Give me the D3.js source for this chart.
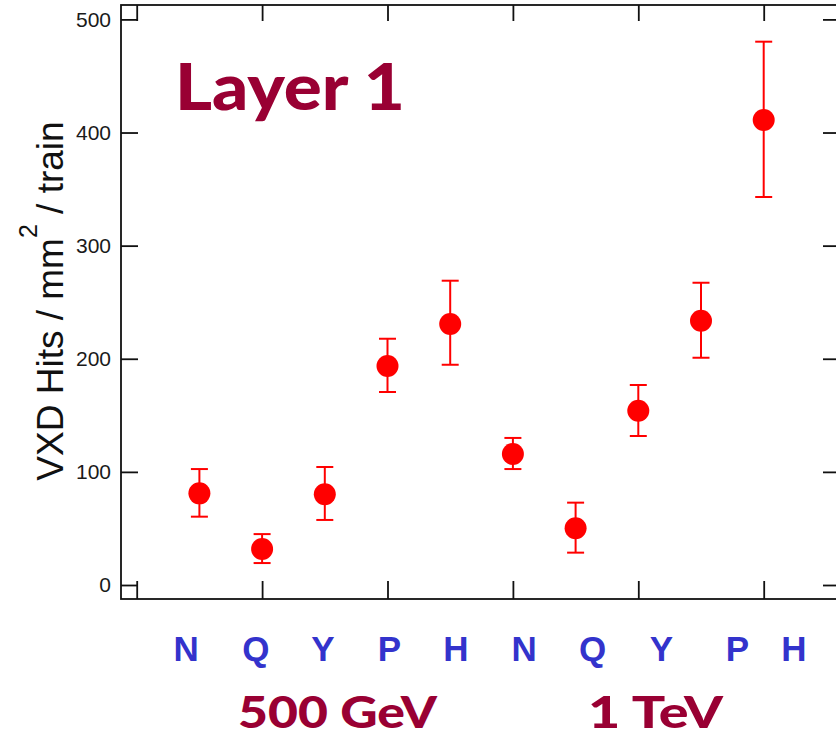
<!DOCTYPE html>
<html>
<head>
<meta charset="utf-8">
<script src="https://cdn.jsdelivr.net/npm/d3@7"></script>
<style>
  html, body { margin: 0; padding: 0; background: #ffffff; }
  svg { display: block; }
</style>
</head>
<body>
<svg id="chart" width="836" height="738"></svg>
<script>
// ---- data ----
const categories = ["N", "Q", "Y", "P", "H", "N", "Q", "Y", "P", "H"];
const energies = ["500 GeV", "1 TeV"];
const hits = [81, 31.8, 80.2, 193.6, 230.7, 115.8, 50.1, 154, 233.6, 411];
const errHigh = [102.5, 45, 104.3, 217.7, 269, 130, 72.8, 176.8, 267.2, 480.3];
const errLow = [60.4, 19.4, 57.5, 170.6, 194.7, 102.5, 28.6, 131.7, 200.9, 343];
const yTicks = [0, 100, 200, 300, 400, 500];
const xTicks = [0, 2, 4, 6, 8, 10];
const title = "Layer 1";
const yLabelMain = "VXD Hits / mm";
const yLabelSup = "2";
const yLabelTail = " / train";
// hand-placed category-letter anchors, in x-axis units
const letterAnchor = [0.79, 1.9, 2.97, 4.03, 5.09, 6.18, 7.27, 8.37, 9.58, 10.48];

// ---- layout ----
const svg = d3.select("#chart");
const frame = { left: 121, right: 839, top: 5, bottom: 599 };

const x = d3.scaleLinear().domain([0, 10]).range([136.7, 763.7]);
const y = d3.scaleLinear().domain([0, 500]).range([585, 19.4]);

const crimson = "#990033";
const blue = "#3333cc";
const red = "#ff0000";

// frame
svg.append("rect")
  .attr("x", frame.left).attr("y", frame.top)
  .attr("width", frame.right - frame.left)
  .attr("height", frame.bottom - frame.top)
  .attr("fill", "none").attr("stroke", "#111").attr("stroke-width", 1.8);

const tickFont = "'Liberation Sans', Arial, sans-serif";

// left axis
const gLeft = svg.append("g").attr("transform", `translate(${frame.left},0)`)
  .call(d3.axisLeft(y).tickValues(yTicks).tickSize(-17).tickSizeOuter(0).tickPadding(10));
// top axis
const gTop = svg.append("g").attr("transform", `translate(0,${frame.top})`)
  .call(d3.axisTop(x).tickValues(xTicks).tickSize(-16).tickSizeOuter(0).tickFormat(""));
// bottom axis
const gBottom = svg.append("g").attr("transform", `translate(0,${frame.bottom})`)
  .call(d3.axisBottom(x).tickValues(xTicks).tickSize(-18).tickSizeOuter(0).tickFormat(""));
// right axis
const gRight = svg.append("g").attr("transform", `translate(${frame.right},0)`)
  .call(d3.axisRight(y).tickValues(yTicks).tickSize(-16).tickSizeOuter(0).tickFormat(""));

[gLeft, gTop, gBottom, gRight].forEach(g => {
  g.select(".domain").remove();
  g.selectAll(".tick line").attr("stroke", "#111").attr("stroke-width", 1.8);
});
gLeft.selectAll(".tick text")
  .attr("font-family", tickFont).attr("font-size", 21).attr("fill", "#1a1a1a");

// error bars
const capHalf = 8.5;
const idx = d3.range(hits.length);
const gErr = svg.append("g").attr("stroke", red).attr("stroke-width", 2);
gErr.selectAll("line.v").data(idx).join("line").attr("class", "v")
  .attr("x1", i => x(i + 1)).attr("x2", i => x(i + 1))
  .attr("y1", i => y(errLow[i])).attr("y2", i => y(errHigh[i]));
gErr.selectAll("line.t").data(idx).join("line").attr("class", "t")
  .attr("x1", i => x(i + 1) - capHalf).attr("x2", i => x(i + 1) + capHalf)
  .attr("y1", i => y(errHigh[i])).attr("y2", i => y(errHigh[i]));
gErr.selectAll("line.b").data(idx).join("line").attr("class", "b")
  .attr("x1", i => x(i + 1) - capHalf).attr("x2", i => x(i + 1) + capHalf)
  .attr("y1", i => y(errLow[i])).attr("y2", i => y(errLow[i]));

// markers
svg.append("g").selectAll("circle").data(idx).join("circle")
  .attr("cx", i => x(i + 1)).attr("cy", i => y(hits[i]))
  .attr("r", 11).attr("fill", red);

// title
const comic = "'Comic Sans MS', 'Lato', 'DejaVu Sans', sans-serif";
svg.append("text")
  .attr("x", 175).attr("y", 110)
  .attr("font-family", comic).attr("font-weight", 900).attr("font-size", 64)
  .attr("fill", crimson)
  .attr("textLength", 230).attr("lengthAdjust", "spacingAndGlyphs")
  .text(title);

// y label
const yl = svg.append("text")
  .attr("transform", "translate(63,301) rotate(-90)")
  .attr("text-anchor", "middle")
  .attr("font-family", tickFont).attr("font-size", 37).attr("fill", "#111");
yl.append("tspan").text(yLabelMain);
yl.append("tspan").attr("font-size", 25).attr("dy", -26).text(yLabelSup);
yl.append("tspan").attr("dy", 26).text(yLabelTail);

// category letters
svg.append("g").selectAll("text").data(categories).join("text")
  .attr("x", (d, i) => x(letterAnchor[i])).attr("y", 661)
  .attr("text-anchor", "middle")
  .attr("font-family", tickFont).attr("font-weight", "bold").attr("font-size", 35)
  .attr("fill", blue)
  .text(d => d);

// energy labels
const energyPos = [{ x: 238, w: 199 }, { x: 588, w: 135 }];
svg.append("g").selectAll("text").data(energies).join("text")
  .attr("x", (d, i) => energyPos[i].x).attr("y", 728)
  .attr("font-family", comic).attr("font-weight", 900).attr("font-size", 44)
  .attr("fill", crimson)
  .attr("textLength", (d, i) => energyPos[i].w).attr("lengthAdjust", "spacingAndGlyphs")
  .text(d => d);
</script>
</body>
</html>
